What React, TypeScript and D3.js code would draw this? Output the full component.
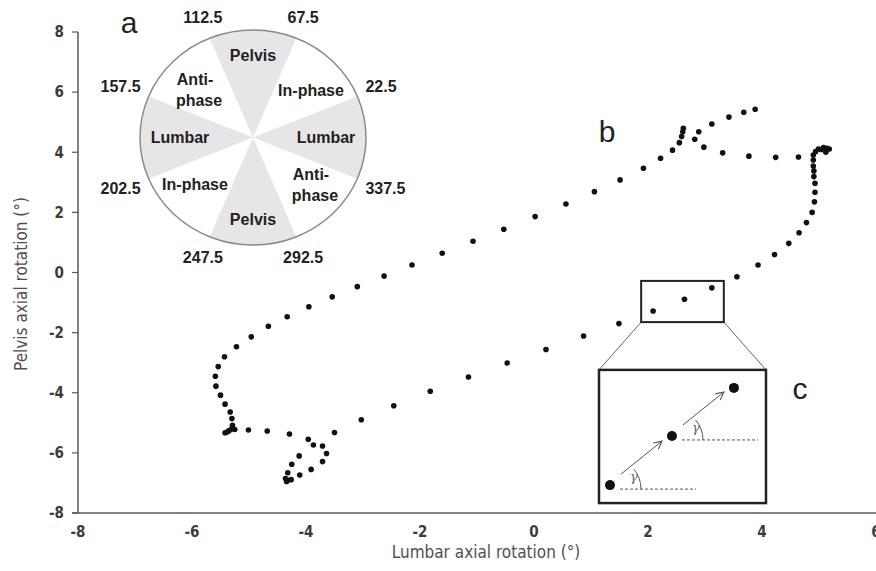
import * as d3 from 'd3';

// lumbar (x) and pelvis (y) axial rotation, degrees, one entry per frame
const lumbar = [
  -3.10, -3.54, -3.95, -4.33, -4.66, -4.96, -5.22, -5.43, -5.54, -5.59,
  -5.58, -5.50, -5.42, -5.33, -5.30, -5.29, -5.25, -5.42, -5.38, -5.35,
  -5.30, -5.01, -4.68, -4.29, -3.96, -3.87, -3.71, -3.64, -3.71, -3.91,
  -4.11, -4.36, -4.32, -4.26, -4.34, -4.32, -4.25, -4.12, -3.50, -3.03,
  -2.46, -1.82, -1.15, -0.47, 0.21, 0.87, 1.49, 2.09, 2.64, 3.12,
  3.56, 3.93, 4.22, 4.47, 4.65, 4.78, 4.88, 4.92, 4.93, 4.93,
  4.91, 4.91, 4.90, 4.90, 4.90, 4.94, 4.99, 5.04, 5.08, 5.14,
  5.18, 5.12, 4.64, 4.24, 3.77, 3.31, 2.98, 2.82, 2.89, 3.12,
  3.42, 3.68, 3.88, 2.62, 2.61, 2.59, 2.55, 2.43, 2.22, 1.92,
  1.51, 1.06, 0.56, 0.02, -0.53, -1.07, -1.61, -2.14, -2.63,
];
const pelvis = [
  -0.47, -0.81, -1.14, -1.47, -1.79, -2.14, -2.47, -2.80, -3.13, -3.45,
  -3.78, -4.08, -4.38, -4.64, -4.86, -5.08, -5.22, -5.33, -5.30, -5.26,
  -5.20, -5.24, -5.27, -5.37, -5.55, -5.74, -5.77, -6.02, -6.29, -6.55,
  -6.74, -6.85, -6.91, -6.89, -6.95, -6.66, -6.38, -6.10, -5.32, -4.90,
  -4.43, -3.95, -3.48, -3.01, -2.56, -2.11, -1.70, -1.28, -0.89, -0.51,
  -0.14, 0.25, 0.60, 0.97, 1.32, 1.66, 2.00, 2.35, 2.67, 2.97,
  3.19, 3.38, 3.54, 3.74, 3.91, 4.02, 4.11, 4.09, 4.16, 4.13,
  4.11, 4.00, 3.84, 3.83, 3.87, 3.98, 4.17, 4.43, 4.68, 4.94,
  5.17, 5.33, 5.43, 4.80, 4.68, 4.52, 4.32, 4.07, 3.80, 3.47,
  3.08, 2.69, 2.28, 1.86, 1.44, 1.04, 0.64, 0.25, -0.12,
];

const xTicks = [-8, -6, -4, -2, 0, 2, 4, 6];
const yTicks = [-8, -6, -4, -2, 0, 2, 4, 6, 8];

// coupling-angle classification wheel (panel a)
const sectorCentres = [0, 45, 90, 135, 180, 225, 270, 315];
const sectorNames = [['Lumbar'], ['In-phase'], ['Pelvis'], ['Anti-', 'phase'], ['Lumbar'], ['In-phase'], ['Pelvis'], ['Anti-', 'phase']];
const boundaryAngles = [22.5, 67.5, 112.5, 157.5, 202.5, 247.5, 292.5, 337.5];

// zoomed region and magnified inset (panel c), in data units
const zoomBox = { x0: 1.88, x1: 3.33, y0: -1.65, y1: -0.28 };
const insetBox = { x0: 1.14, x1: 4.07, y0: -7.67, y1: -3.24 };

const W = 876;
const H = 571;
const margin = { top: 32, right: 0, bottom: 58, left: 78 };

const axisFont = "'Liberation Sans Narrow', 'DejaVu Sans Condensed', 'Open Sans', sans-serif";
const wheelFont = "'Liberation Sans', Arial, sans-serif";

const Wheel = () => {
  const cx = 253;
  const cy = 137.5;
  const rx = 113;
  const ry = 107.5;
  const rad = (a: number) => (a * Math.PI) / 180;
  const arc = d3.arc<number>()
    .innerRadius(0)
    .outerRadius(1)
    .startAngle(c => Math.PI / 2 - rad(c + 22.5))
    .endAngle(c => Math.PI / 2 - rad(c - 22.5));

  return (
    <g fontFamily={wheelFont} fontWeight="bold" fontSize={16} fill="#222">
      <g transform={`translate(${cx},${cy}) scale(${rx},${ry})`}>
        {sectorCentres.filter(c => c % 90 === 0).map(c => (
          <path key={c} d={arc(c) ?? ''} fill="#e6e6e6" />
        ))}
      </g>
      <ellipse cx={cx} cy={cy} rx={rx} ry={ry} fill="none" stroke="#8a8a8a" strokeWidth={1.5} />
      {sectorCentres.map((c, i) => {
        const lx = c % 90 === 0 ? 73 : 82;
        const ly = c % 90 === 0 ? 82 : 67;
        const px = cx + Math.cos(rad(c)) * lx;
        const py = cy - Math.sin(rad(c)) * ly;
        const lines = sectorNames[i];
        return (
          <text key={c} x={px} y={py} textAnchor="middle">
            {lines.map((t, j) => (
              <tspan key={j} x={px + (j === 1 ? 4 : 0)} dy={j === 0 ? `${0.35 - (lines.length - 1) * 0.65}em` : '1.3em'}>{t}</tspan>
            ))}
          </text>
        );
      })}
      {boundaryAngles.map(a => {
        const c = Math.cos(rad(a));
        const s = Math.sin(rad(a));
        const ex = cx + rx * c;
        const ey = cy - ry * s;
        const side = Math.abs(c) > 0.7;
        const tx = side ? ex + Math.sign(c) * 8 : ex + c * 18;
        const ty = side ? ey - s * 26 : ey - s * 22;
        return (
          <text key={a} x={tx} y={ty} dy="0.35em" textAnchor={side ? (c > 0 ? 'start' : 'end') : 'middle'}>
            {a}
          </text>
        );
      })}
    </g>
  );
};

const App = () => {
  const x = d3.scaleLinear().domain([-8, 6]).range([margin.left, W - margin.right]);
  const y = d3.scaleLinear().domain([-8, 8]).range([H - margin.bottom, margin.top]);
  const points = lumbar.map((l, i) => ({ l, p: pelvis[i] }));

  const zx0 = x(zoomBox.x0), zx1 = x(zoomBox.x1), zy0 = y(zoomBox.y1), zy1 = y(zoomBox.y0);
  const ix0 = x(insetBox.x0), ix1 = x(insetBox.x1), iy0 = y(insetBox.y1), iy1 = y(insetBox.y0);
  const iw = ix1 - ix0;
  const ih = iy1 - iy0;
  // three magnified frames inside the inset, as fractions of the box
  const big = [[0.066, 0.865], [0.437, 0.496], [0.808, 0.135]].map(([fx, fy]) => [ix0 + fx * iw, iy0 + fy * ih]);
  const gammaArc = (px: number, py: number) => {
    const r = 31;
    const a = (40 * Math.PI) / 180;
    return `M${px + r},${py} A${r},${r} 0 0 0 ${px + r * Math.cos(a)},${py - r * Math.sin(a)}`;
  };

  return (
    <svg width={W} height={H} style={{ position: 'absolute', left: 0, top: 0, background: '#fff' }}>
      <defs>
        <marker id="arrow" viewBox="0 0 10 10" refX={9} refY={5} markerWidth={10} markerHeight={10} orient="auto">
          <path d="M1,1 L9,5 L1,9" fill="none" stroke="#555" strokeWidth={1.1} />
        </marker>
      </defs>

      {/* axes */}
      <line x1={x(-8)} x2={x(-8)} y1={y(8)} y2={y(-8)} stroke="#595959" strokeWidth={1.5} />
      <line x1={x(-8) - 6} x2={W} y1={y(-8)} y2={y(-8)} stroke="#595959" strokeWidth={1.5} />
      <g fontFamily={axisFont} fontSize={15} fontWeight="bold" fill="#3c3c3c">
        {yTicks.map(t => (
          <g key={t}>
            <line x1={x(-8) - 6} x2={x(-8)} y1={y(t)} y2={y(t)} stroke="#595959" strokeWidth={1.2} />
            <text x={x(-8) - 14} y={y(t)} dy="0.35em" textAnchor="end">{t}</text>
          </g>
        ))}
        {xTicks.map(t => (
          <text key={t} x={x(t)} y={y(-8) + 24} textAnchor="middle">{t}</text>
        ))}
      </g>
      <g fontFamily={axisFont} fontSize={17} fill="#505050">
        <text x={486} y={558} textAnchor="middle">Lumbar axial rotation (°)</text>
        <text transform={`translate(27,${284}) rotate(-90)`} textAnchor="middle">Pelvis axial rotation (°)</text>
      </g>

      {/* trajectory */}
      {points.map((d, i) => (
        <circle key={i} cx={x(d.l)} cy={y(d.p)} r={2.8} fill="#111" />
      ))}

      <Wheel />

      {/* zoom box and magnified inset */}
      <line x1={zx0} y1={zy1} x2={ix0} y2={iy0} stroke="#666" strokeWidth={1} />
      <line x1={zx1} y1={zy1} x2={ix1} y2={iy0} stroke="#666" strokeWidth={1} />
      <rect x={zx0} y={zy0} width={zx1 - zx0} height={zy1 - zy0} fill="none" stroke="#222" strokeWidth={2} />
      <rect x={ix0} y={iy0} width={iw} height={ih} fill="#fff" stroke="#222" strokeWidth={2.5} />
      {big.slice(0, 2).map(([px, py], i) => (
        <g key={i} stroke="#555" fill="none">
          <line x1={px + 11} y1={py - 11} x2={px + 52} y2={py - 44} strokeWidth={1} markerEnd="url(#arrow)" />
          <line x1={px + 10} y1={py + 4} x2={px + 86} y2={py + 4} strokeWidth={1} strokeDasharray="3,2" />
          <path d={gammaArc(px, py + 4)} strokeWidth={1} />
          <text x={px + 20} y={py - 4} fontFamily="'DejaVu Serif', serif" fontStyle="italic" fontSize={13} fill="#666" stroke="none">γ</text>
        </g>
      ))}
      {big.map(([px, py], i) => (
        <circle key={i} cx={px} cy={py} r={5} fill="#111" />
      ))}

      <g fontFamily={wheelFont} fontSize={30} fill="#222">
        <text x={129} y={33} textAnchor="middle">a</text>
        <text x={607} y={142} textAnchor="middle">b</text>
        <text x={800} y={399} textAnchor="middle">c</text>
      </g>
    </svg>
  );
};

export default App;
